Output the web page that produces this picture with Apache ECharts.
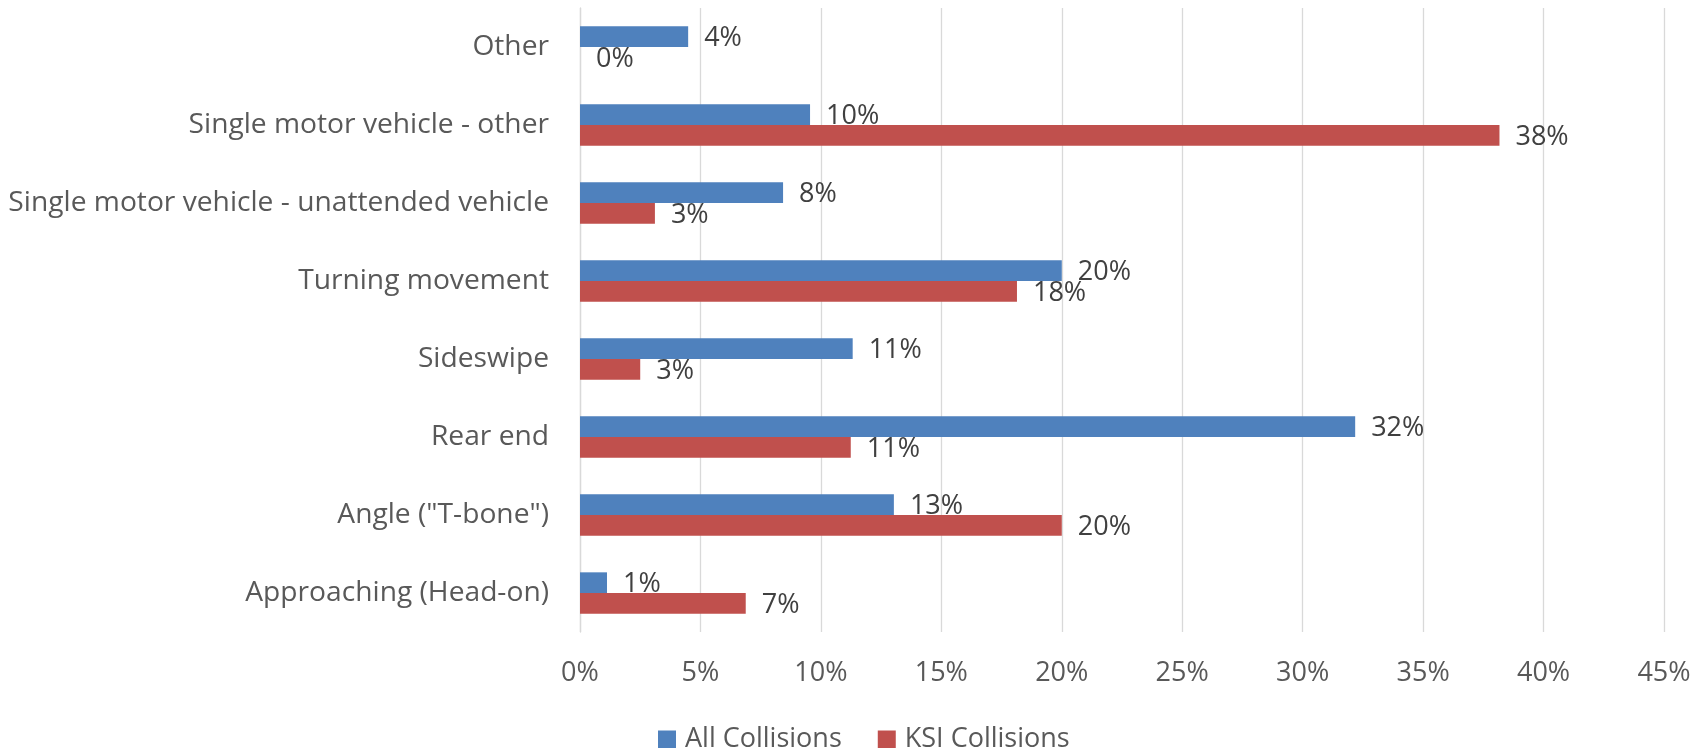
<!DOCTYPE html>
<html>
<head>
<meta charset="utf-8">
<script src="https://cdn.jsdelivr.net/npm/echarts@6/dist/echarts.min.js"></script>
<style>
html,body{margin:0;padding:0;background:#fff;}
#chart{width:1707px;height:748px;}
</style>
</head>
<body>
<div id="chart"></div>
<script>
var categories = ['Approaching (Head-on)', 'Angle ("T-bone")', 'Rear end', 'Sideswipe', 'Turning movement', 'Single motor vehicle - unattended vehicle', 'Single motor vehicle - other', 'Other'];
var allCollisions = [1.12, 13.03, 32.18, 11.32, 20.0, 8.43, 9.55, 4.49];
var ksiCollisions = [6.88, 20.0, 11.24, 2.5, 18.14, 3.11, 38.17, 0];
var seriesNames = ['All Collisions', 'KSI Collisions'];

var FONT = '"Open Sans", "Noto Sans", sans-serif';
var chart = echarts.init(document.getElementById('chart'), null, {renderer: 'canvas'});

function lbl() {
  return {
    show: true,
    position: 'right',
    distance: 16,
    offset: [0, 2],
    color: '#404040',
    fontFamily: FONT,
    fontSize: 27,
    formatter: function (p) { return Math.round(p.value) + '%'; }
  };
}

chart.setOption({
  animation: false,
  backgroundColor: '#ffffff',
  grid: {left: 580, right: 43, top: 8, bottom: 116, containLabel: false},
  legend: {
    data: seriesNames,
    left: 653,
    top: 721,
    itemWidth: 18,
    itemHeight: 18,
    itemGap: 36,
    icon: 'rect',
    textStyle: {color: '#595959', fontFamily: FONT, fontSize: 27, padding: [0, 0, 0, 4]}
  },
  xAxis: {
    type: 'value',
    min: 0,
    max: 45,
    interval: 5,
    axisLine: {show: false},
    axisTick: {show: false},
    axisLabel: {color: '#595959', fontFamily: FONT, fontSize: 27, margin: 28, formatter: '{value}%'},
    splitLine: {show: true, lineStyle: {color: '#D9D9D9', width: 1.3}}
  },
  yAxis: {
    type: 'category',
    data: categories,
    axisLine: {show: true, lineStyle: {color: '#D9D9D9', width: 1.3}},
    axisTick: {show: false},
    axisLabel: {color: '#595959', fontFamily: FONT, fontSize: 28.2, margin: 31, offset: [0, 0]}
  },
  series: [
    {
      name: seriesNames[0],
      type: 'bar',
      data: allCollisions,
      itemStyle: {color: '#4F81BD'},
      barGap: '0%',
      barCategoryGap: '47%',
      label: lbl()
    },
    {
      name: seriesNames[1],
      type: 'bar',
      data: ksiCollisions,
      itemStyle: {color: '#C0504D'},
      barGap: '0%',
      barCategoryGap: '47%',
      label: lbl()
    }
  ]
});
</script>
</body>
</html>
